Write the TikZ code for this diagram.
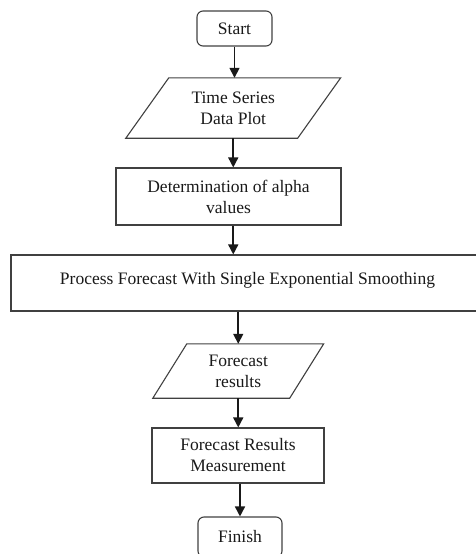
\documentclass[tikz,border=0pt]{standalone}
\usepackage{fontspec}
\setmainfont{Liberation Serif}
\usetikzlibrary{arrows.meta,calc}
\begin{document}
\begin{tikzpicture}[x=1pt,y=-1pt,
  txt/.style={align=center,inner sep=0pt,font=\fontsize{17.5}{21}\selectfont,text=black!90},
  box/.style={txt,draw=black!75,line width=1.1pt},
  term/.style={box,rounded corners=6pt},
  io/.style={txt},
  ioshape/.style={draw=black!75,line width=1.1pt,line join=miter},
  arr/.style={line width=1.6pt,draw=black!90,-{Triangle[width=10pt,length=10pt]}}
]
\useasboundingbox (0,0) rectangle (476,554);
\clip (0,0) rectangle (476,554);

\node[term,minimum width=75pt,minimum height=35pt] (start) at (234.5,28.5) {Start};

\node[io,minimum width=171.5pt,minimum height=60pt] (p1) at (233.25,108) {Time Series\\Data Plot};
\draw[ioshape] ($(p1.north west)+(21.5,0)$) -- ($(p1.north east)+(21.5,0)$) -- ($(p1.south east)+(-21.5,0)$) -- ($(p1.south west)+(-21.5,0)$) -- cycle;

\node[box,minimum width=225pt,minimum height=57pt] (det) at (228.5,196.5) {Determination of alpha\\values};

\node[box,minimum width=473pt,minimum height=56pt,text height=10pt,text depth=8pt] (proc) at (247.5,283) {Process Forecast With Single Exponential Smoothing};

\node[io,minimum width=136.5pt,minimum height=54pt] (p2) at (238.25,371) {Forecast\\results};
\draw[ioshape] ($(p2.north west)+(17,0)$) -- ($(p2.north east)+(17,0)$) -- ($(p2.south east)+(-17,0)$) -- ($(p2.south west)+(-17,0)$) -- cycle;

\node[box,minimum width=172pt,minimum height=55pt] (frm) at (238,455.5) {Forecast Results\\Measurement};

\node[term,minimum width=84pt,minimum height=40pt] (finish) at (240,537) {Finish};

\draw[arr] (start.south) -- (start.south |- p1.north);
\draw[arr] (p1.south) -- (p1.south |- det.north);
\draw[arr] (p1.south |- det.south) -- (p1.south |- proc.north);
\draw[arr] (p2.north |- proc.south) -- (p2.north);
\draw[arr] (p2.south) -- (p2.south |- frm.north);
\draw[arr] (finish.north |- frm.south) -- (finish.north);
\end{tikzpicture}
\end{document}
